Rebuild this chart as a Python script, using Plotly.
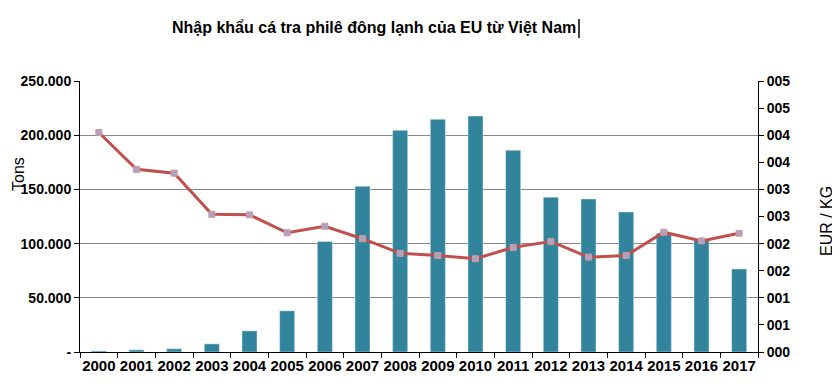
import plotly.graph_objects as go

years = [str(y) for y in range(2000, 2018)]
tons = [1000, 2000, 3000, 7500, 19500, 38000, 102000, 153000, 204500, 214700,
        217700, 186100, 142800, 141200, 129200, 109500, 103300, 76600]
eur_kg = [4.05, 3.37, 3.30, 2.54, 2.53, 2.20, 2.32, 2.09, 1.82, 1.78,
          1.72, 1.93, 2.04, 1.75, 1.78, 2.21, 2.05, 2.19]

left_vals = [0, 50000, 100000, 150000, 200000, 250000]
left_text = ["-", "50.000", "100.000", "150.000", "200.000", "250.000"]
right_vals = [0, 0.5, 1, 1.5, 2, 2.5, 3, 3.5, 4, 4.5, 5]
right_text = ["000", "001", "001", "002", "002", "003", "003", "004", "004", "005", "005"]

title = "Nhập khẩu cá tra philê đông lạnh của EU từ Việt Nam"

FONT = "Liberation Sans, Arial, sans-serif"

# page has an 8px body margin; figure is sized/offset to compensate
fig = go.Figure()
fig.add_trace(go.Bar(x=years, y=tons, marker_color="#31849B", width=0.4,
                     name="Tons", yaxis="y"))
fig.add_trace(go.Scatter(x=years, y=eur_kg, yaxis="y2", mode="lines+markers",
                         line=dict(color="#C0504D", width=3),
                         marker=dict(symbol="square", size=6, color="#A9A3C4",
                                     line=dict(color="#D9969A", width=1)),
                         name="EUR/KG"))

fig.update_layout(
    width=832, height=382,
    margin=dict(l=72, r=82, t=73, b=38, autoexpand=False),
    paper_bgcolor="white", plot_bgcolor="white",
    showlegend=False,
    bargap=0.6,
    font=dict(family=FONT, color="black"),
    xaxis=dict(type="category", tickson="boundaries", ticks="outside", ticklen=5,
               tickcolor="black", showline=True, linecolor="black", linewidth=1,
               showgrid=False, tickangle=0, automargin=False,
               tickfont=dict(size=15, family=FONT, weight="bold"),
               range=[-0.5, 17.5]),
    yaxis=dict(range=[0, 250000], tickvals=left_vals, ticktext=left_text,
               ticks="outside", ticklen=5, tickcolor="black", automargin=False,
               showline=True, linecolor="black", linewidth=1,
               showgrid=True, gridcolor="#888888", gridwidth=1, zeroline=False,
               tickfont=dict(size=14, family=FONT, weight="bold")),
    yaxis2=dict(range=[0, 5], tickvals=right_vals, ticktext=right_text,
                overlaying="y", side="right", ticks="outside", ticklen=5,
                tickcolor="black", showline=True, linecolor="black", linewidth=1,
                showgrid=False, zeroline=False, automargin=False,
                tickfont=dict(size=14, family=FONT, weight="bold")),
    annotations=[
        dict(text=title, xref="paper", yref="paper", x=(374 - 80) / 678,
             y=1 + (81 - 28) / 271, xanchor="center", yanchor="middle",
             showarrow=False, font=dict(size=16, family=FONT, weight="bold")),
        dict(text="Tons", xref="paper", yref="paper", x=(18 - 80) / 678,
             y=(352 - 174) / 271, xanchor="center", yanchor="middle",
             textangle=-90, showarrow=False, font=dict(size=16, family=FONT)),
        dict(text="EUR / KG", xref="paper", yref="paper", x=1 + (826 - 758) / 678,
             y=(352 - 221) / 271, xanchor="center", yanchor="middle",
             textangle=-90, showarrow=False, font=dict(size=16, family=FONT)),
    ],
    shapes=[
        dict(type="line", xref="paper", yref="paper",
             x0=(579 - 80) / 678, x1=(579 - 80) / 678,
             y0=1 + (81 - 38) / 271, y1=1 + (81 - 19) / 271,
             line=dict(color="black", width=1.5)),
    ],
)

fig.write_html("out.html")
